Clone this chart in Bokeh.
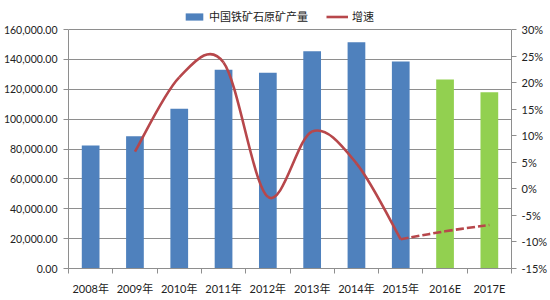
from bokeh.plotting import figure
from bokeh.models import (Range1d, LinearAxis, FixedTicker, NumeralTickFormatter,
                          PrintfTickFormatter, Legend, LegendItem, ColumnDataSource)
from bokeh.embed import file_html
from bokeh.resources import INLINE

# ---- data ----
years = ["2008年", "2009年", "2010年", "2011年", "2012年", "2013年", "2014年",
         "2015年", "2016E", "2017E"]
output = [82400, 88500, 107000, 133000, 131000, 145500, 151500, 138500, 126500, 118000]
is_forecast = [False] * 8 + [True] * 2
growth_years = ["2009年", "2010年", "2011年", "2012年", "2013年", "2014年", "2015年"]
growth = [7.0, 21.0, 23.8, -1.5, 10.8, 4.8, -9.5]
forecast_years = ["2015年", "2016E", "2017E"]
growth_forecast = [-9.5, -8.0, -6.8]
left_ticks = [0, 20000, 40000, 60000, 80000, 100000, 120000, 140000, 160000]
right_ticks = [-15, -10, -5, 0, 5, 10, 15, 20, 25, 30]

BLUE = "#4F81BD"
GREEN = "#92D050"
RED = "#B7474B"
GRID = "#8E8E8E"
FONT = "Lato, Noto Sans CJK SC"

# layout: the plotted value area is 239px tall; the frame reaches 24px higher
# so the legend (drawn inside the frame) is not clipped
AREA_H, EXTRA = 239, 24
scale = (AREA_H + EXTRA) / AREA_H
lmin, lmax = left_ticks[0], left_ticks[-1]
rmin, rmax = right_ticks[0], right_ticks[-1]

xpos = list(range(len(years)))
idx = {y: i for i, y in enumerate(years)}

p = figure(width=550, height=300, output_backend="svg", toolbar_location=None,
           x_range=Range1d(-0.5, len(years) - 0.5),
           y_range=Range1d(lmin, lmin + (lmax - lmin) * scale),
           min_border_left=67, min_border_right=38, min_border_top=300 - 32 - AREA_H - EXTRA,
           min_border_bottom=32)
p.background_fill_color = "#FFFFFF"
p.border_fill_color = "#FFFFFF"
p.outline_line_color = None
p.extra_y_ranges = {"pct": Range1d(rmin, rmin + (rmax - rmin) * scale)}

src = ColumnDataSource(dict(x=xpos, top=output,
                            color=[GREEN if f else BLUE for f in is_forecast]))
bars = p.vbar(x="x", top="top", width=0.4, bottom=0, fill_color="color",
              line_color=None, source=src)


def smooth(xs, ys):
    """Bezier segments (Excel-style smoothing) through the data points."""
    n = len(xs)
    out = dict(x0=[], y0=[], x1=[], y1=[], cx0=[], cy0=[], cx1=[], cy1=[])
    for i in range(n - 1):
        a = i - 1 if i > 0 else i
        b = i + 2 if i + 2 < n else i + 1
        out["x0"].append(xs[i]); out["y0"].append(ys[i])
        out["x1"].append(xs[i + 1]); out["y1"].append(ys[i + 1])
        out["cx0"].append(xs[i] + (xs[i + 1] - xs[a]) / 6)
        out["cy0"].append(ys[i] + (ys[i + 1] - ys[a]) / 6)
        out["cx1"].append(xs[i + 1] - (xs[b] - xs[i]) / 6)
        out["cy1"].append(ys[i + 1] - (ys[b] - ys[i]) / 6)
    return out


solid = p.bezier(source=ColumnDataSource(smooth([idx[y] for y in growth_years], growth)),
                 x0="x0", y0="y0", x1="x1", y1="y1", cx0="cx0", cy0="cy0",
                 cx1="cx1", cy1="cy1", line_color=RED, line_width=2.6,
                 y_range_name="pct")
p.bezier(source=ColumnDataSource(smooth([idx[y] for y in forecast_years], growth_forecast)),
         x0="x0", y0="y0", x1="x1", y1="y1", cx0="cx0", cy0="cy0",
         cx1="cx1", cy1="cy1", line_color=RED, line_width=2.6,
         line_dash="8 3", y_range_name="pct")

# axes
xa = p.xaxis[0]
xa.ticker = FixedTicker(ticks=xpos, minor_ticks=[i - 0.5 for i in range(len(years) + 1)])
xa.major_label_overrides = {i: y for i, y in enumerate(years)}
xa.major_tick_out = 0
xa.major_tick_in = 0
xa.minor_tick_out = 5
xa.minor_tick_in = 0
xa.minor_tick_line_color = GRID
xa.axis_line_color = GRID
xa.major_label_standoff = 8
xa.major_label_text_font = FONT
xa.major_label_text_font_size = "11px"
xa.major_label_text_color = "#222222"

ya = p.yaxis[0]
ya.ticker = FixedTicker(ticks=left_ticks)
ya.bounds = (lmin, lmax)
ya.formatter = NumeralTickFormatter(format="0,0.00")
ya.major_tick_out = 5
ya.major_tick_in = 0
ya.minor_tick_line_color = None
ya.axis_line_color = GRID
ya.major_tick_line_color = GRID
ya.major_label_standoff = 6
ya.major_label_text_font = FONT
ya.major_label_text_font_size = "10.5px"
ya.major_label_text_color = "#222222"

ra = LinearAxis(y_range_name="pct", ticker=FixedTicker(ticks=right_ticks),
                formatter=PrintfTickFormatter(format="%d%%"), bounds=(rmin, rmax))
ra.major_tick_out = 5
ra.major_tick_in = 0
ra.minor_tick_line_color = None
ra.axis_line_color = GRID
ra.major_tick_line_color = GRID
ra.major_label_standoff = 5
ra.major_label_text_font = FONT
ra.major_label_text_font_size = "11px"
ra.major_label_text_color = "#222222"
p.add_layout(ra, "right")

p.xgrid.visible = False
p.ygrid.ticker = FixedTicker(ticks=left_ticks)
p.ygrid.grid_line_color = GRID
p.ygrid.grid_line_width = 1

legend = Legend(items=[LegendItem(label="中国铁矿石原矿产量", renderers=[bars]),
                       LegendItem(label="增速", renderers=[solid])],
                orientation="horizontal", location=(115, 244))
legend.label_text_font = "Noto Sans CJK SC"
legend.label_text_font_size = "11px"
legend.label_text_color = "#222222"
legend.glyph_width = 22
legend.glyph_height = 9
legend.label_standoff = 4
legend.spacing = 18
legend.padding = 0
legend.margin = 0
legend.border_line_color = None
legend.background_fill_alpha = 0
p.add_layout(legend, "center")

open("out.html", "w").write(file_html(p, INLINE))
